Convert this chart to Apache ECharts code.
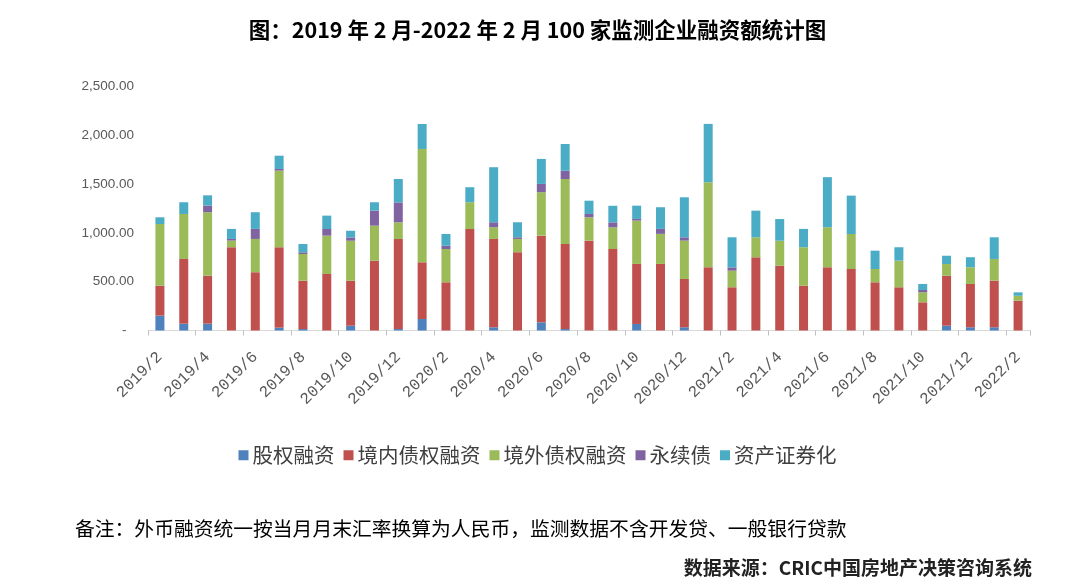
<!DOCTYPE html>
<html>
<head>
<meta charset="utf-8">
<script src="https://cdn.jsdelivr.net/npm/echarts@6/dist/echarts.min.js"></script>
<style>
html,body{margin:0;padding:0;background:#fff;}
#chart{width:1075px;height:588px;}
</style>
</head>
<body>
<div id="chart"></div>
<script>
const categories = ['2019/2','2019/3','2019/4','2019/5','2019/6','2019/7','2019/8','2019/9','2019/10','2019/11','2019/12',
  '2020/1','2020/2','2020/3','2020/4','2020/5','2020/6','2020/7','2020/8','2020/9','2020/10','2020/11','2020/12',
  '2021/1','2021/2','2021/3','2021/4','2021/5','2021/6','2021/7','2021/8','2021/9','2021/10','2021/11','2021/12',
  '2022/1','2022/2'];
const equity   = [152,70,70,0,0,29,15,0,49,0,15, 118,0,0,33,0,84,15,0,0,67,0,33, 0,0,0,0,0,0,0,0,0,0,49,33, 33,0];
const domestic = [307,663,492,853,597,824,495,579,461,715,922, 581,494,1040,905,802,888,871,920,835,615,682,495, 648,443,750,664,459,648,630,494,443,289,512,444, 478,305];
const overseas = [632,461,650,68,341,785,274,393,410,359,171, 1161,341,274,120,136,445,666,240,222,444,308,393, 871,170,205,256,394,410,359,136,273,103,120,171, 222,51];
const perpetual= [0,0,68,17,103,17,17,68,34,154,205, 0,34,0,51,17,85,85,34,51,17,51,34, 0,34,0,0,0,0,0,0,0,23,0,0, 0,0];
const abs      = [69,120,105,103,171,136,85,137,68,86,239, 256,120,154,564,154,256,274,136,170,136,222,410, 598,308,273,222,188,513,393,188,137,62,85,103, 222,35];
const seriesNames = ['股权融资','境内债权融资','境外债权融资','永续债','资产证券化'];
const colors = ['#4f81bd','#c0504d','#9bbb59','#8064a2','#4bacc6'];
const yTicks = [0,500,1000,1500,2000,2500];

const chart = echarts.init(document.getElementById('chart'));
const dataSets = [equity, domestic, overseas, perpetual, abs];
const CJK = '"Noto Sans CJK SC", "Noto Sans", sans-serif';
chart.setOption({
  animation: false,
  backgroundColor: '#fff',
  title: [
    {text: '图：2019 年 2 月-2022 年 2 月 100 家监测企业融资额统计图', left: 'center', top: 14,
     textStyle: {fontFamily: CJK, fontWeight: 'bold', fontSize: 21.5, color: '#000'}},
    {text: '备注：外币融资统一按当月月末汇率换算为人民币，监测数据不含开发贷、一般银行贷款', left: 70, top: 514,
     textStyle: {fontFamily: CJK, fontWeight: 'normal', fontSize: 19.8, color: '#000'}},
    {text: '数据来源：CRIC中国房地产决策咨询系统', right: 38, top: 553,
     textStyle: {fontFamily: CJK, fontWeight: 'bold', fontSize: 19, color: '#222'}}
  ],
  legend: {
    data: seriesNames, top: 440, left: 'center', itemWidth: 10, itemHeight: 10, itemGap: 9,
    icon: 'rect',
    textStyle: {fontFamily: CJK, fontSize: 20.5, color: '#404040', padding: [0,0,0,-1]}
  },
  grid: {left: 148, right: 45, top: 86.5, bottom: 257.5, containLabel: false},
  xAxis: {
    type: 'category', data: categories,
    axisLine: {lineStyle: {color: '#d9d9d9', width: 1}},
    axisTick: {show: true, interval: 1, length: 5, lineStyle: {color: '#bfbfbf'}},
    axisLabel: {interval: 1, rotate: 45, margin: 24, color: '#595959', fontSize: 16,
      fontFamily: '"Liberation Mono", "DejaVu Sans Mono", monospace'}
  },
  yAxis: {
    type: 'value', min: 0, max: 2500, interval: 500,
    axisLine: {show: false}, axisTick: {show: false}, splitLine: {show: false},
    axisLabel: {margin: 14, color: '#595959', fontSize: 13.5, fontFamily: '"Liberation Sans", sans-serif',
      formatter: v => v === 0 ? '-  ' : v.toLocaleString('en-US', {minimumFractionDigits: 2, maximumFractionDigits: 2})}
  },
  series: seriesNames.map((n, i) => ({
    name: n, type: 'bar', stack: 'total', data: dataSets[i], barWidth: 9,
    itemStyle: {color: colors[i]}
  }))
});
</script>
</body>
</html>
